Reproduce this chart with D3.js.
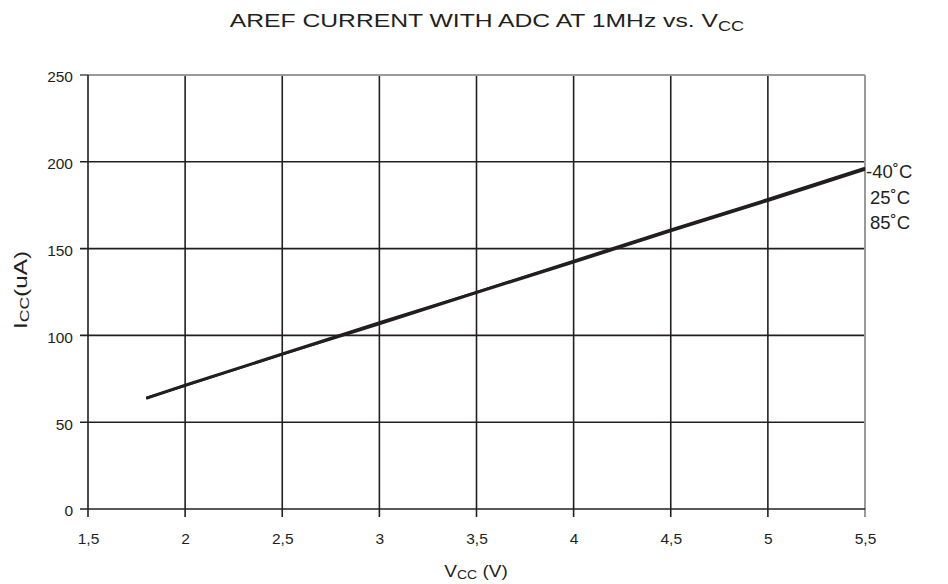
<!DOCTYPE html>
<meta charset="utf-8">
<style>
body { margin: 0; background: #fff; }
text { font-family: "Liberation Sans", Arial, sans-serif; fill: #231f20; }
.grid line { stroke: #231f20; stroke-width: 1.6px; }
</style>
<svg width="948" height="584"></svg>
<script src="https://d3js.org/d3.v7.min.js"></script>
<script>
var vcc = [1.8, 2.0, 2.5, 3.0, 3.5, 4.0, 4.5, 5.0, 5.5];
var iMinus40 = [64, 71.5, 89.5, 107.5, 125, 143, 161, 178.5, 196.5];
var i25 = [64, 71, 89, 107, 125, 142.5, 160.5, 178, 196];
var i85 = [63.5, 71, 89, 106.5, 124.5, 142, 160, 177.5, 195.5];
var series = [
  {name: "-40˚C", values: iMinus40},
  {name: "25˚C", values: i25},
  {name: "85˚C", values: i85}
];
var xTicks = [1.5, 2, 2.5, 3, 3.5, 4, 4.5, 5, 5.5];
var yTicks = [0, 50, 100, 150, 200, 250];

var svg = d3.select("svg");
var pLeft = 88, pRight = 865, pTop = 75, pBottom = 509;

var x = d3.scaleLinear().domain([1.5, 5.5]).range([pLeft, pRight]);
var y = d3.scaleLinear().domain([0, 250]).range([pBottom, pTop]);

// grid lines
var grid = svg.append("g").attr("class", "grid");
grid.selectAll(".v").data(xTicks.slice(1, -1)).enter().append("line")
    .attr("x1", function(d) { return x(d); }).attr("x2", function(d) { return x(d); })
    .attr("y1", pTop).attr("y2", pBottom + 8);
grid.selectAll(".h").data(yTicks.slice(1, -1)).enter().append("line")
    .attr("x1", pLeft - 8).attr("x2", pRight)
    .attr("y1", function(d) { return y(d); }).attr("y2", function(d) { return y(d); });

// frame: gray top/right, dark left/bottom
svg.append("line").attr("x1", pLeft).attr("x2", pRight).attr("y1", pTop).attr("y2", pTop)
    .attr("stroke", "#999").attr("stroke-width", 2);
svg.append("line").attr("x1", pRight).attr("x2", pRight).attr("y1", pTop).attr("y2", pBottom + 8)
    .attr("stroke", "#999").attr("stroke-width", 2);
svg.append("line").attr("x1", pLeft).attr("x2", pLeft).attr("y1", pTop).attr("y2", pBottom + 8)
    .attr("stroke", "#231f20").attr("stroke-width", 1.6);
svg.append("line").attr("x1", pLeft - 8).attr("x2", pRight).attr("y1", pBottom).attr("y2", pBottom)
    .attr("stroke", "#231f20").attr("stroke-width", 1.6);
svg.append("line").attr("x1", pLeft - 8).attr("x2", pLeft).attr("y1", pTop).attr("y2", pTop)
    .attr("stroke", "#231f20").attr("stroke-width", 1.2);

// tick labels via d3 axes, domain hidden
var fmt = function(d) { return String(d).replace(".", ","); };
var xAxis = svg.append("g").attr("transform", "translate(0," + pBottom + ")")
    .call(d3.axisBottom(x).tickValues(xTicks).tickFormat(fmt).tickSize(0).tickPadding(24));
var yAxis = svg.append("g").attr("transform", "translate(" + pLeft + ",2)")
    .call(d3.axisLeft(y).tickValues(yTicks).tickSize(0).tickPadding(15));
[xAxis, yAxis].forEach(function(a) {
  a.attr("font-size", 15.5).attr("font-family", "'Liberation Sans', Arial, sans-serif");
  a.select(".domain").remove();
  a.selectAll("text").attr("fill", "#231f20");
});

// data lines
var line = d3.line()
    .x(function(d, i) { return x(vcc[i]); })
    .y(function(d) { return y(d); });
svg.selectAll(".series").data(series).enter().append("path")
    .attr("d", function(d) { return line(d.values); })
    .attr("fill", "none").attr("stroke", "#231f20").attr("stroke-width", 2.2);

// series labels
svg.selectAll(".lab").data(series).enter().append("text")
    .attr("x", function(d, i) { return i === 0 ? 866 : 870; })
    .attr("y", function(d, i) { return 178 + i * 25.5; })
    .attr("font-size", 18.5)
    .text(function(d) { return d.name; });

// title (source text is set wide)
var title = svg.append("text").attr("transform", "translate(487,27) scale(1.3,1)")
    .attr("text-anchor", "middle").attr("font-size", 19);
title.append("tspan").text("AREF CURRENT WITH ADC AT 1MHz vs. V");
title.append("tspan").attr("font-size", 14).attr("dy", 4).text("CC");

// x title
var xt = svg.append("text").attr("transform", "translate(476,577) scale(1.12,1)")
    .attr("text-anchor", "middle").attr("font-size", 17);
xt.append("tspan").text("V");
xt.append("tspan").attr("font-size", 12.5).attr("dy", 2).text("CC");
xt.append("tspan").attr("dy", -2).text(" (V)");

// y title
var yt = svg.append("text").attr("transform", "translate(27,290) rotate(-90) scale(1.35,1)")
    .attr("text-anchor", "middle").attr("font-size", 18);
yt.append("tspan").text("I");
yt.append("tspan").attr("font-size", 13).attr("dy", 2).text("CC");
yt.append("tspan").attr("dy", -2).text("(uA)");
</script>
